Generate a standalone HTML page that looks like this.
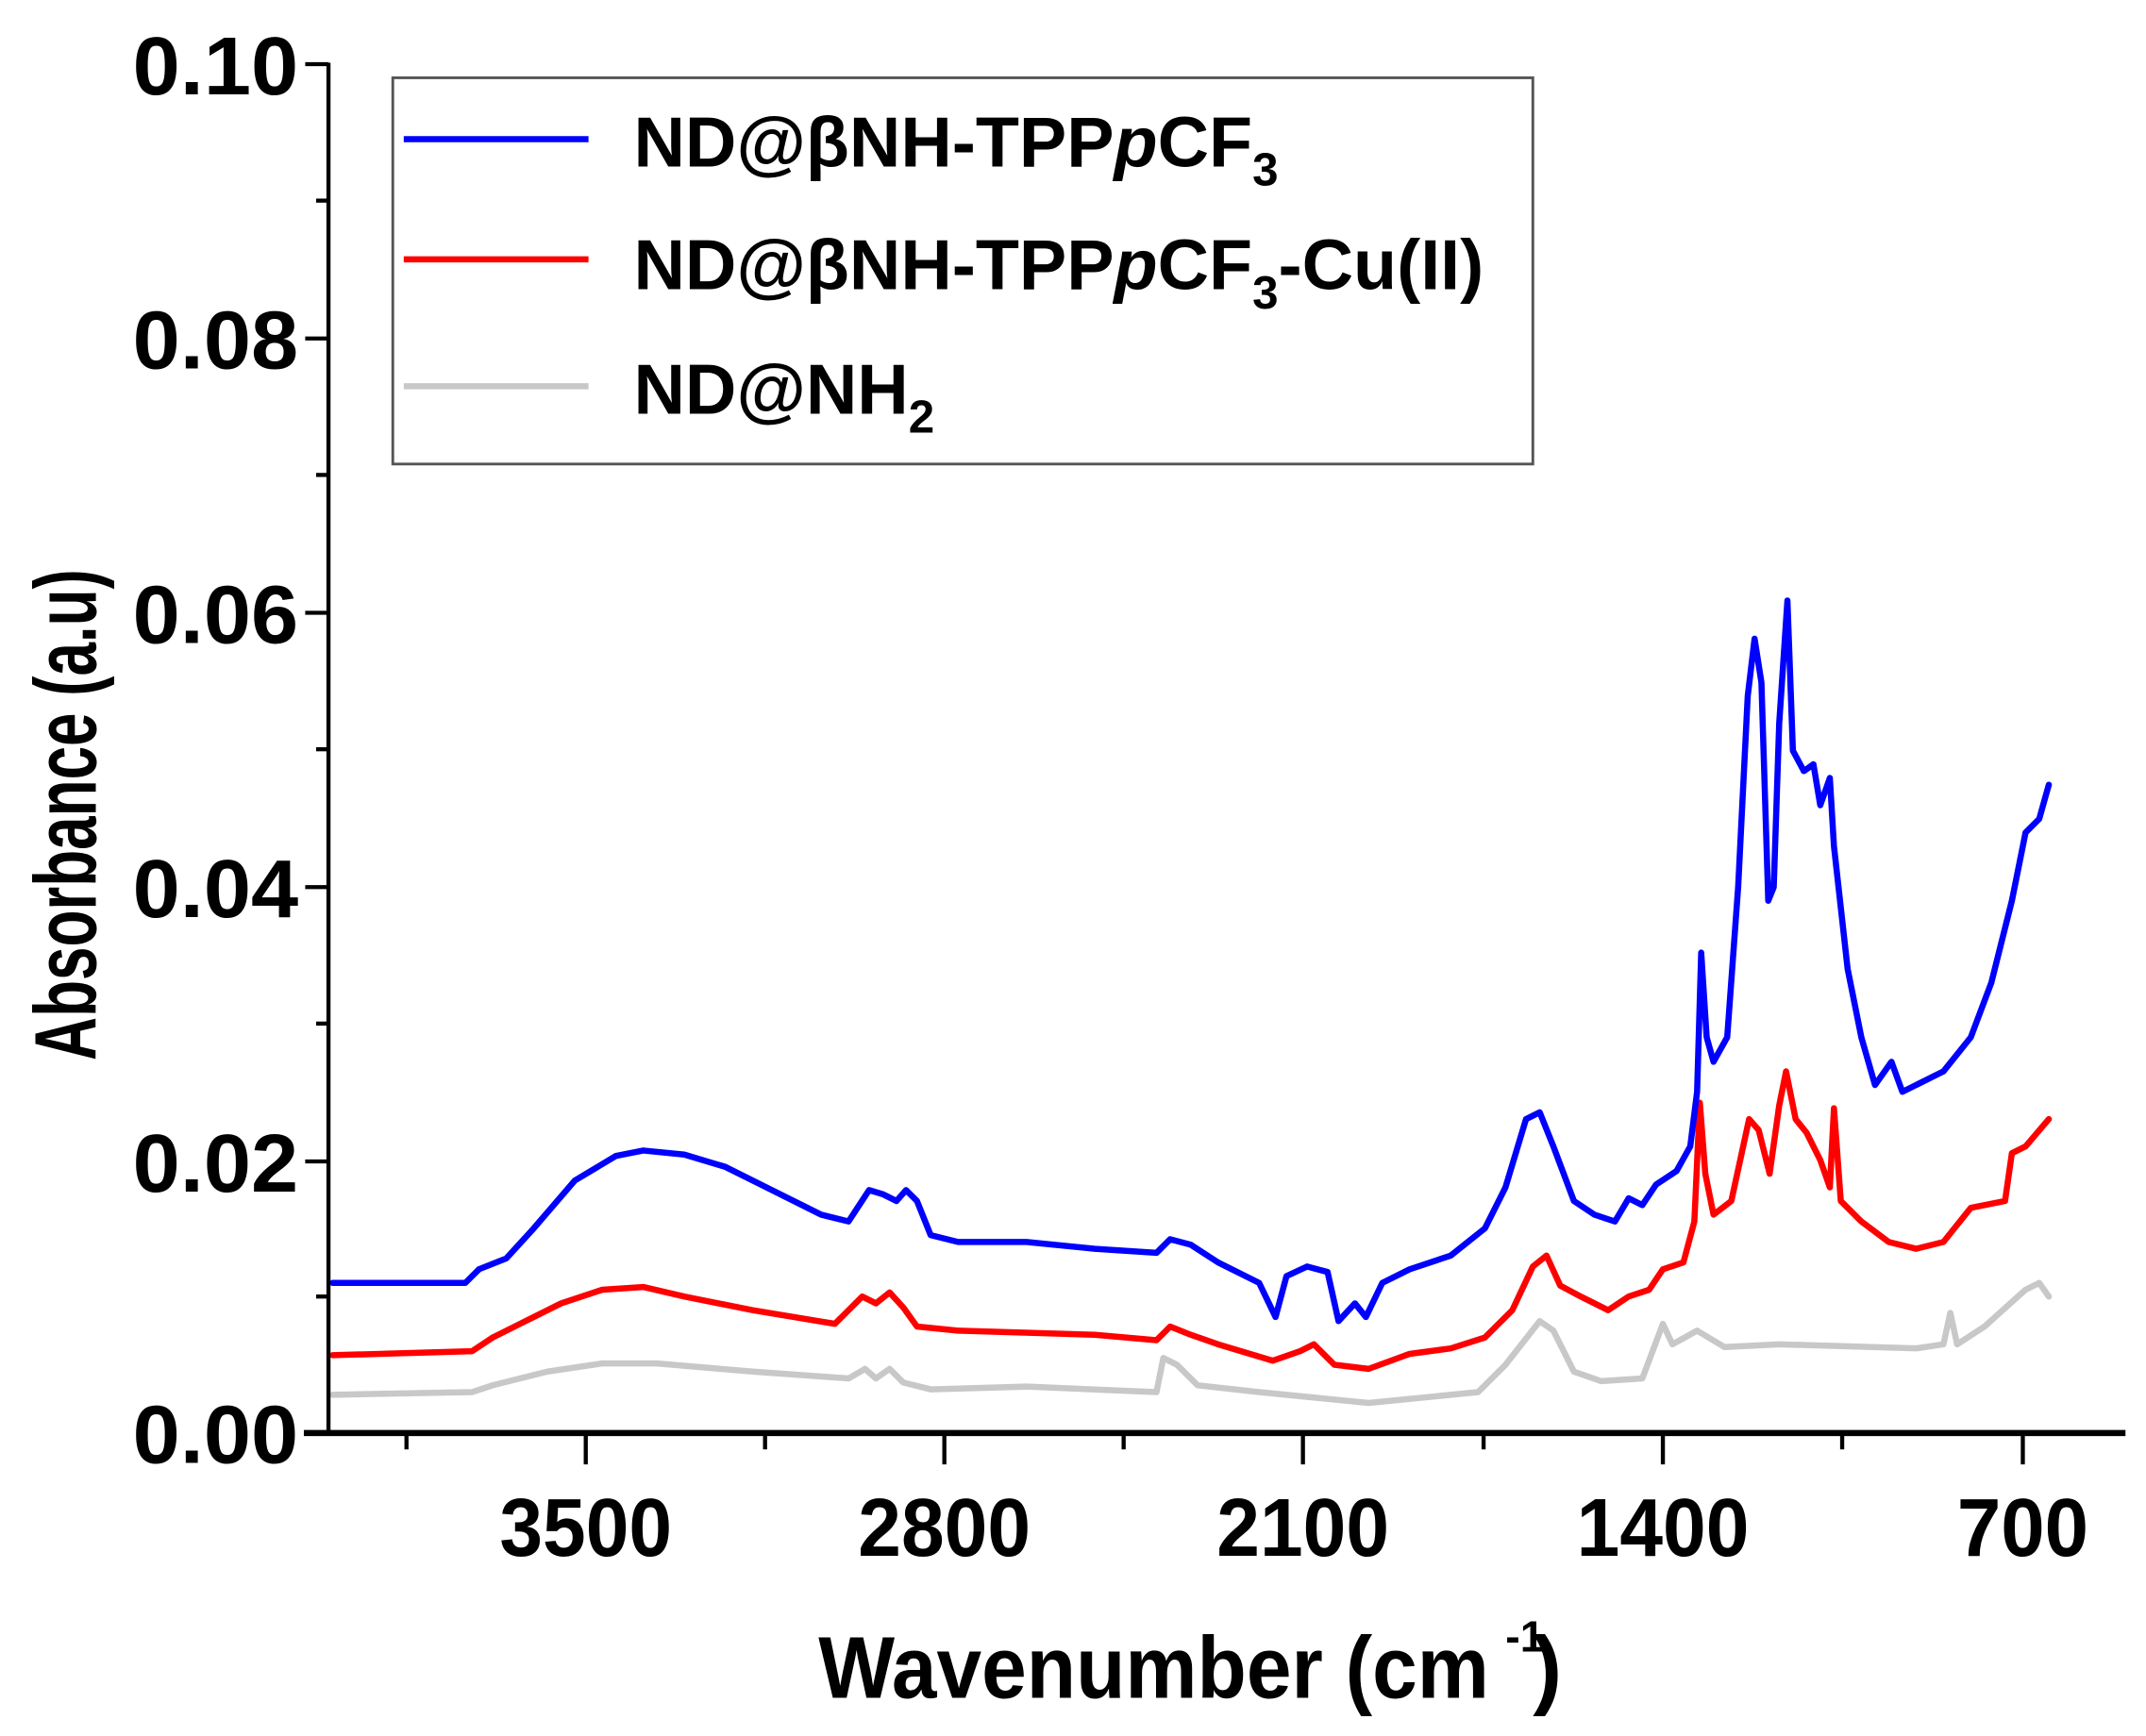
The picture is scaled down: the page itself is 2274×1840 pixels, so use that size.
<!DOCTYPE html>
<html><head><meta charset="utf-8"><style>
html,body{margin:0;padding:0;background:#fff;}
svg{display:block;}
text{font-family:"Liberation Sans",sans-serif;font-weight:bold;fill:#000;}
</style></head><body>
<svg width="2274" height="1840" viewBox="0 0 1568 1272" preserveAspectRatio="none" xmlns="http://www.w3.org/2000/svg">
<rect width="1568" height="1272" fill="#fff"/>
<g fill="none" stroke-linejoin="round" stroke-linecap="round" stroke-width="4.5">
<polyline stroke="#c8c8c8" points="243,1022 345,1020 360,1015 400,1005 440,999 480,999 550,1005 620,1010 632,1003 640,1010 650,1003 660,1013 680,1018 750,1016 845,1020 850,995 860,1000 875,1015 920,1020 1000,1028 1080,1020 1100,1000 1125,968 1135,975 1150,1005 1170,1012 1200,1010 1215,970 1222,985 1240,975 1260,987 1300,985 1400,988 1420,985 1425,962 1430,985 1450,972 1480,945 1490,940 1497,950"/>
<polyline stroke="#ff0000" points="243,993 345,990 360,980 380,970 410,955 440,945 470,943 500,950 550,960 610,970 630,950 640,955 650,947 660,958 670,972 700,975 800,978 845,982 855,972 870,978 890,985 930,997 950,990 960,985 975,1000 1000,1003 1030,992 1060,988 1085,980 1105,960 1120,928 1130,920 1140,942 1155,950 1175,960 1190,950 1205,945 1215,930 1230,925 1238,895 1242,808 1246,860 1252,890 1265,880 1278,820 1285,828 1293,860 1300,810 1305,785 1312,820 1320,830 1330,850 1337,870 1340,812 1345,880 1360,895 1380,910 1400,915 1420,910 1440,885 1465,880 1470,845 1480,840 1497,820"/>
<polyline stroke="#0000ff" points="243,940 340,940 350,930 370,922 390,900 420,865 450,847 470,843 500,846 530,855 560,870 600,890 620,895 635,872 645,875 655,880 662,872 670,880 680,905 700,910 750,910 800,915 845,918 855,908 870,912 890,925 920,940 932,965 940,935 955,928 970,932 978,968 990,955 998,965 1010,940 1030,930 1060,920 1085,900 1100,870 1115,820 1125,815 1135,840 1150,880 1165,890 1180,895 1190,878 1200,883 1210,868 1225,858 1235,840 1240,800 1243,698 1247,760 1252,778 1262,760 1270,650 1277,510 1282,468 1287,500 1292,660 1296,650 1300,530 1306,440 1310,550 1318,565 1325,560 1330,590 1337,570 1340,620 1350,710 1360,760 1370,795 1382,778 1390,800 1400,795 1420,785 1440,760 1455,720 1470,660 1480,610 1490,600 1497,575"/>
</g>
<g stroke="#000" stroke-width="3">
<line x1="240" y1="46" x2="240" y2="1052"/>
<line x1="222" y1="1050" x2="1553" y2="1050" stroke-width="4.5"/>
<line x1="223" y1="47" x2="240" y2="47"/><line x1="223" y1="248" x2="240" y2="248"/><line x1="223" y1="449" x2="240" y2="449"/><line x1="223" y1="650" x2="240" y2="650"/><line x1="223" y1="851" x2="240" y2="851"/>
<line x1="231" y1="147" x2="240" y2="147"/><line x1="231" y1="348" x2="240" y2="348"/><line x1="231" y1="549" x2="240" y2="549"/><line x1="231" y1="750" x2="240" y2="750"/><line x1="231" y1="950" x2="240" y2="950"/>
<line x1="428" y1="1050" x2="428" y2="1073"/><line x1="690" y1="1050" x2="690" y2="1073"/><line x1="952" y1="1050" x2="952" y2="1073"/><line x1="1215" y1="1050" x2="1215" y2="1073"/><line x1="1478" y1="1050" x2="1478" y2="1073"/>
<line x1="297" y1="1050" x2="297" y2="1062"/><line x1="559" y1="1050" x2="559" y2="1062"/><line x1="821" y1="1050" x2="821" y2="1062"/><line x1="1084" y1="1050" x2="1084" y2="1062"/><line x1="1346" y1="1050" x2="1346" y2="1062"/>
</g>
<g font-size="60" text-anchor="end">
<text x="218" y="69" textLength="121" lengthAdjust="spacingAndGlyphs">0.10</text>
<text x="218" y="270" textLength="121" lengthAdjust="spacingAndGlyphs">0.08</text>
<text x="218" y="471" textLength="121" lengthAdjust="spacingAndGlyphs">0.06</text>
<text x="218" y="672" textLength="121" lengthAdjust="spacingAndGlyphs">0.04</text>
<text x="218" y="873" textLength="121" lengthAdjust="spacingAndGlyphs">0.02</text>
<text x="218" y="1072" textLength="121" lengthAdjust="spacingAndGlyphs">0.00</text>
</g>
<g font-size="60" text-anchor="middle">
<text x="428" y="1140" textLength="126" lengthAdjust="spacingAndGlyphs">3500</text>
<text x="690" y="1140" textLength="126" lengthAdjust="spacingAndGlyphs">2800</text>
<text x="952" y="1140" textLength="126" lengthAdjust="spacingAndGlyphs">2100</text>
<text x="1215" y="1140" textLength="126" lengthAdjust="spacingAndGlyphs">1400</text>
<text x="1478" y="1140" textLength="96" lengthAdjust="spacingAndGlyphs">700</text>
</g>
<text x="598" y="1244" font-size="64" textLength="490" lengthAdjust="spacingAndGlyphs">Wavenumber (cm</text>
<text x="1100" y="1210" font-size="32">-1</text>
<text x="1120" y="1244" font-size="64">)</text>
<text transform="translate(70,597) rotate(-90)" font-size="64" text-anchor="middle" textLength="360" lengthAdjust="spacingAndGlyphs">Absorbance (a.u)</text>
<rect x="287" y="57" width="833" height="283" fill="none" stroke="#555" stroke-width="2"/>
<g stroke-width="4.5">
<line x1="295" y1="102" x2="430" y2="102" stroke="#0000ff"/>
<line x1="295" y1="190" x2="430" y2="190" stroke="#ff0000"/>
<line x1="295" y1="283" x2="430" y2="283" stroke="#c8c8c8"/>
</g>
<g font-size="52">
<text x="463" y="122">ND@βNH-TPP<tspan font-style="italic">p</tspan>CF<tspan font-size="34" dy="14">3</tspan></text>
<text x="463" y="212">ND@βNH-TPP<tspan font-style="italic">p</tspan>CF<tspan font-size="34" dy="14">3</tspan><tspan dy="-14">-Cu(II)</tspan></text>
<text x="463" y="303">ND@NH<tspan font-size="34" dy="14">2</tspan></text>
</g>
</svg>
</body></html>
